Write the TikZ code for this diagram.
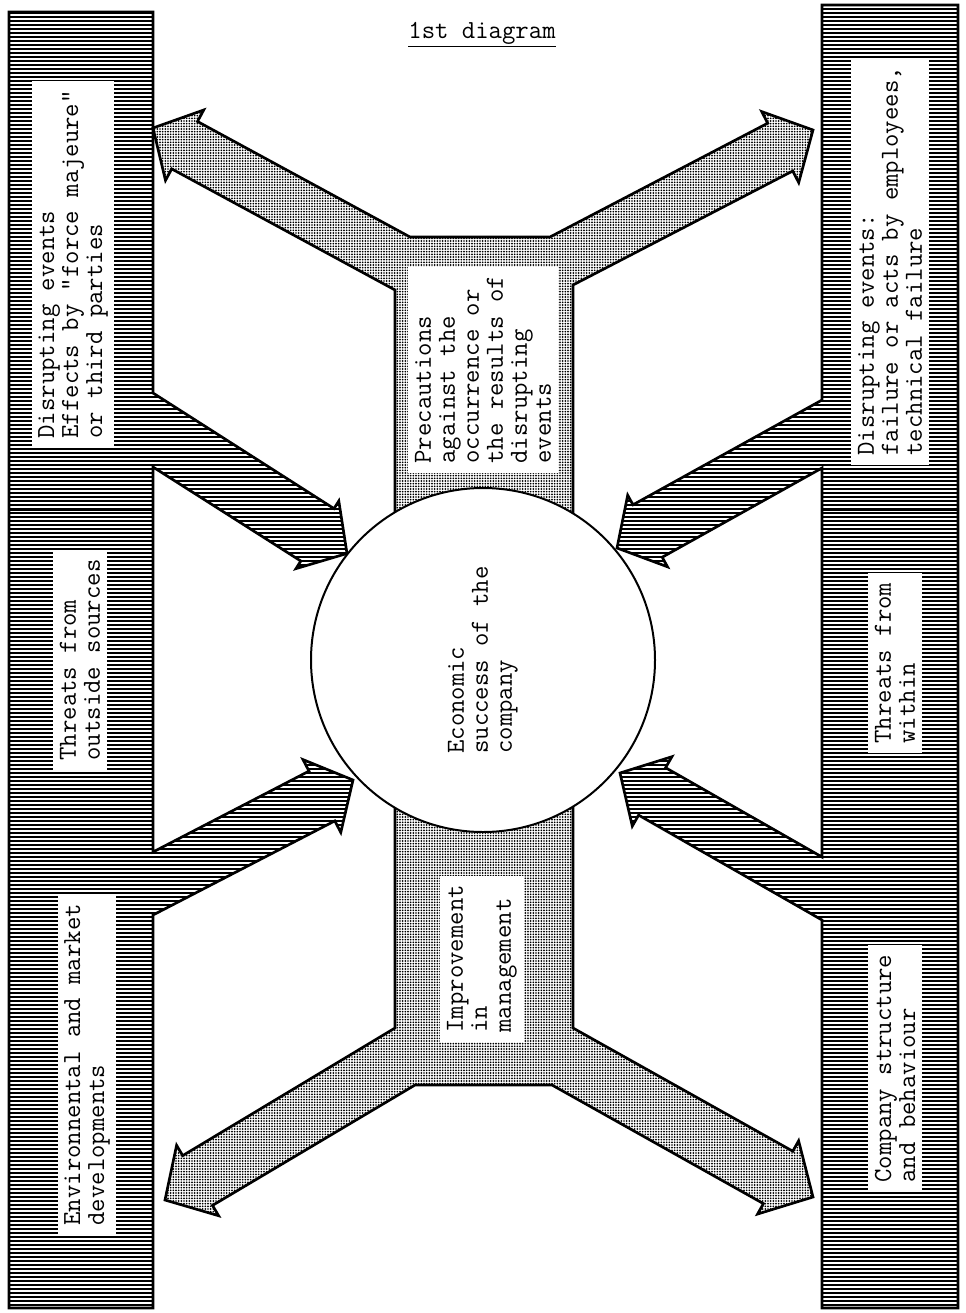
\documentclass[tikz,border=0pt]{standalone}
\usetikzlibrary{patterns.meta}
\begin{document}
\begin{tikzpicture}[x=0.75pt, y=-0.75pt,
    outline/.style={draw, line width=2pt},
    hatch/.style={outline, pattern={Lines[angle=0, distance=3pt, line width=0.9pt]}},
    stipple/.style={outline, pattern={Dots[distance=2pt, radius=0.72pt]}},
    typed/.style={font=\ttfamily\fontsize{19.5}{18}\selectfont},
    textbox/.style={typed, fill=white, rotate=90, anchor=west, align=left, inner xsep=7pt, inner ysep=5pt}]
    \useasboundingbox (0,0) rectangle (966,1313);

    \draw[stipple] (395,560) -- (395,290) -- (171.7,168.9) -- (165.5,180.4) -- (153,128) -- (203.7,110) -- (197.5,121.5) -- (410,237) -- (550,237) -- (767.7,123.2) -- (761.7,111.6) -- (813,130) -- (798.7,182.6) -- (792.7,171) -- (573,285) -- (573,560) -- cycle;
    \draw[stipple] (395,760) -- (395,1028) -- (182.7,1155.6) -- (176.6,1145.3) -- (165,1200) -- (218.6,1215.7) -- (212.5,1205.4) -- (415,1085) -- (552,1085) -- (763.4,1203.6) -- (757.6,1214) -- (813,1197) -- (798.6,1140.8) -- (792.8,1151.2) -- (573,1028) -- (573,760) -- cycle;

    \draw[hatch] (9,12) -- (153,12) -- (153,393) -- (334,508.6) -- (338.8,501) -- (347,553.5) -- (296,568.6) -- (300.8,561) -- (153,467) -- (153,852) -- (309,771.1) -- (303,759.6) -- (353,780) -- (340.8,832.4) -- (334.8,820.9) -- (153,915) -- (153,1308) -- (9,1308) -- cycle;
    \draw[hatch] (958,5) -- (822,5) -- (822,400) -- (633,504.8) -- (627.7,495.2) -- (617,548) -- (667.5,566.8) -- (662.2,557.2) -- (822,468) -- (822,857) -- (665.6,767.7) -- (671.9,756.7) -- (620,773) -- (632.3,826.1) -- (638.6,815.1) -- (822,920) -- (822,1308) -- (958,1308) -- cycle;

    \draw[outline] (9,510) -- (153,510);
    \draw[outline] (9,813) -- (153,813);
    \draw[outline] (822,510) -- (958,510);
    \draw[outline] (822,813) -- (958,813);

    \node[circle, draw, fill=white, line width=1.5pt, minimum size=258pt, rotate=90, align=left, typed] (core) at (483,660) {Economic\\success of the\\company};

    \node[typed] (title) at (482,35) {\underline{1st diagram}};

    \node[textbox] (extdisrupt) at (73,448) {Disrupting events\\Effects by "force majeure"\\or third parties};
    \node[textbox] (extthreat) at (80,770) {Threats from\\outside sources};
    \node[textbox] (market) at (87,1235) {Environnental and market\\developments};
    \node[textbox] (prec) at (483,473) {Precautions\\against the\\occurrence or\\the results of\\disrupting\\events};
    \node[textbox] (improve) at (482,1042) {Improvement\\in\\management};
    \node[textbox] (intdisrupt) at (890,465) {Disrupting events:\\failure or acts by employees,\\technical failure};
    \node[textbox] (intthreat) at (895,753) {Threats from\\within};
    \node[textbox] (structure) at (895,1192) {Company structure\\and behaviour};
\end{tikzpicture}
\end{document}
